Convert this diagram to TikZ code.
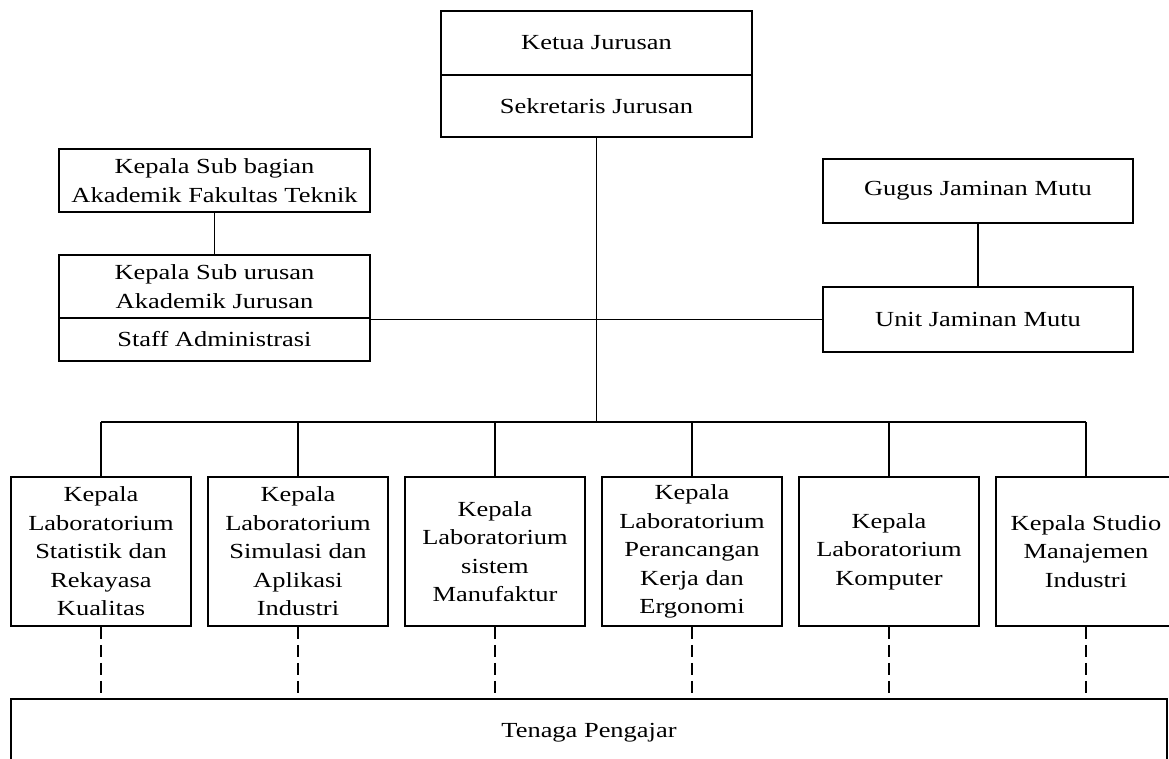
\documentclass[tikz,border=0pt]{standalone}
\usepackage{fontspec}
\setmainfont[FakeStretch=1.23]{Liberation Serif}
\begin{document}
\begin{tikzpicture}[x=1pt,y=-1pt,
  box/.style={draw,line width=1.8pt,rectangle,inner sep=0pt,align=center,
    font=\fontsize{21.5}{28.5}\selectfont},
  widebox/.style={box,minimum width=311pt},
  labbox/.style={box,minimum width=180pt,minimum height=149pt},
  link/.style={line width=1.8pt},
  dashlink/.style={line width=1.8pt,dash pattern=on 12pt off 6pt}
]
\useasboundingbox (0,0) rectangle (1169,758);

% head of department
\node[widebox,minimum height=64pt] (ketua) at (596.5,43) {Ketua Jurusan};
\node[widebox,minimum height=62pt] (sek) at (596.5,106) {Sekretaris Jurusan};

% academic administration
\node[widebox,minimum height=63pt] (subbag) at (214.5,180.5) {Kepala Sub bagian\\Akademik Fakultas Teknik};
\node[widebox,minimum height=63pt] (kasub) at (214.5,286.5) {Kepala Sub urusan\\Akademik Jurusan};
\node[widebox,minimum height=43pt] (staff) at (214.5,339.5) {Staff Administrasi};

% quality assurance
\node[box,minimum width=310pt,minimum height=64pt] (gugus) at (978,191) {Gugus Jaminan Mutu};
\node[box,minimum width=310pt,minimum height=65pt] (unit) at (978,319.5) {Unit Jaminan Mutu};

% laboratories
\node[labbox] (lab1) at (101,551.5) {Kepala\\Laboratorium\\Statistik dan\\Rekayasa\\Kualitas};
\node[labbox] (lab2) at (298,551.5) {Kepala\\Laboratorium\\Simulasi dan\\Aplikasi\\Industri};
\node[labbox] (lab3) at (495,551.5) {Kepala\\Laboratorium\\sistem\\Manufaktur};
\node[labbox] (lab4) at (692,551.5) {Kepala\\Laboratorium\\Perancangan\\Kerja dan\\Ergonomi};
\node[labbox] (lab5) at (889,551.5) {Kepala\\Laboratorium\\Komputer};
\node[labbox] (lab6) at (1086,551.5) {Kepala Studio\\Manajemen\\Industri};

% teaching staff
\node[box,minimum width=1156pt,minimum height=68pt] (tenaga) at (589,733) {Tenaga Pengajar};

\coordinate (bus) at (596.5,422);

% connectors
\draw[link] (subbag.south) -- (kasub.north);
\draw[link] (gugus.south) -- (unit.north);
\draw[link] (sek.south) -- (bus);
\draw[link] (unit.west) -- (unit.west -| kasub.east);
\draw[link] (lab1.north |- bus) -- (lab6.north |- bus);
\foreach \i in {1,...,6}{
  \draw[link] (lab\i.north) -- (lab\i.north |- bus);
  \draw[dashlink] (lab\i.south) -- (lab\i.south |- tenaga.north);
}
\end{tikzpicture}
\end{document}
